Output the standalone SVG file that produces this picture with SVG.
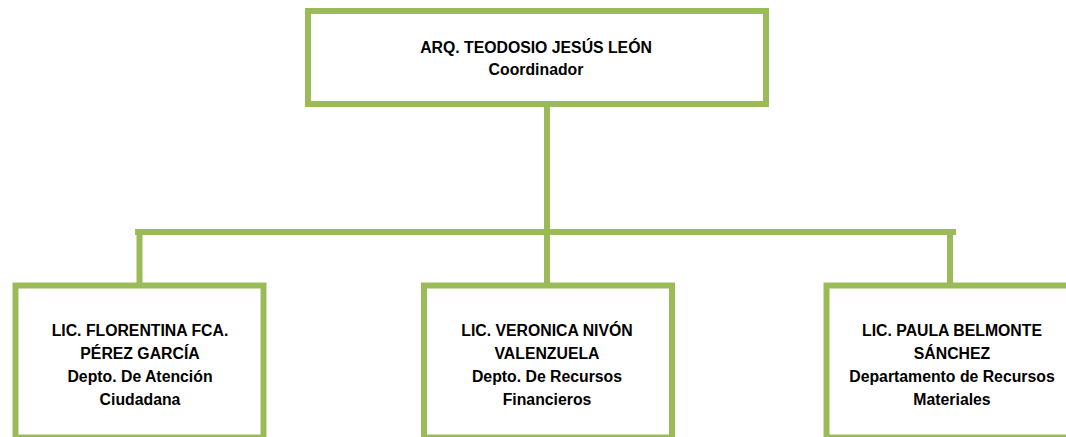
<svg xmlns="http://www.w3.org/2000/svg" width="1066" height="437" viewBox="0 0 1066 437">
  <style>
    .box { fill: #FFFFFF; stroke: #9BBB59; stroke-width: 6; }
    .conn { fill: none; stroke: #9BBB59; stroke-width: 6; stroke-linecap: butt; }
    .t { font-family: "Liberation Sans", Arial, sans-serif; font-weight: bold; font-size: 15.8px; fill: #000000; text-anchor: middle; }
  </style>
  <rect width="1066" height="437" fill="#FFFFFF"/>
  <g id="connectors">
    <line class="conn" x1="547" y1="107" x2="547" y2="232"/>
    <line class="conn" x1="135" y1="232" x2="956" y2="232"/>
    <line class="conn" x1="139.5" y1="232" x2="139.5" y2="285"/>
    <line class="conn" x1="547" y1="232" x2="547" y2="285"/>
    <line class="conn" x1="950" y1="232" x2="950" y2="285"/>
  </g>
  <g id="node-coordinador">
    <rect class="box" x="308" y="11" width="458" height="93"/>
    <text class="t" x="536" y="53">ARQ. TEODOSIO JESÚS LEÓN</text>
    <text class="t" x="536" y="75">Coordinador</text>
  </g>
  <g id="node-atencion">
    <rect class="box" x="15.5" y="285.5" width="248" height="152"/>
    <text class="t" x="140" y="335.5">LIC. FLORENTINA FCA.</text>
    <text class="t" x="140" y="358.5">PÉREZ GARCÍA</text>
    <text class="t" x="140" y="381.5">Depto. De Atención</text>
    <text class="t" x="140" y="404.5">Ciudadana</text>
  </g>
  <g id="node-financieros">
    <rect class="box" x="424" y="285.5" width="248" height="152"/>
    <text class="t" x="547" y="335.5">LIC. VERONICA NIVÓN</text>
    <text class="t" x="547" y="358.5">VALENZUELA</text>
    <text class="t" x="547" y="381.5">Depto. De Recursos</text>
    <text class="t" x="547" y="404.5">Financieros</text>
  </g>
  <g id="node-materiales">
    <rect class="box" x="826.5" y="285.5" width="248" height="152"/>
    <text class="t" x="952" y="335.5">LIC. PAULA BELMONTE</text>
    <text class="t" x="952" y="358.5">SÁNCHEZ</text>
    <text class="t" x="952" y="381.5">Departamento de Recursos</text>
    <text class="t" x="952" y="404.5">Materiales</text>
  </g>
</svg>
